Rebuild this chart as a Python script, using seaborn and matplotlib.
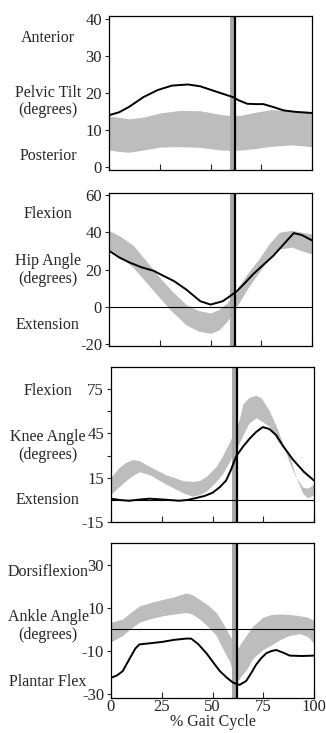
import matplotlib
matplotlib.use("Agg")
import matplotlib.pyplot as plt
import seaborn as sns
import pandas as pd

sns.set_style("ticks")
plt.rcParams['font.family'] = ['Liberation Serif', 'DejaVu Serif']

# ---------------- data ----------------
pelvis_x = [0, 5, 10, 17, 24, 31, 39, 45, 51, 56, 61, 64, 68, 72, 76, 81, 86, 92, 100]
pelvis_mean = [14, 14.8, 16.3, 18.9, 20.8, 22.0, 22.3, 21.8, 20.7, 19.8, 18.9, 18.0, 17.1, 17.0, 17.0, 16.2, 15.3, 14.9, 14.6]
pelvis_x_band = [0, 5, 10, 17, 25, 35, 45, 55, 60, 65, 72, 80, 90, 100]
pelvis_hi = [13.8, 13.4, 13.0, 13.5, 14.6, 15.3, 15.2, 14.2, 13.9, 14.0, 14.8, 15.5, 15.2, 15.0]
pelvis_lo = [4.6, 4.2, 4.0, 4.6, 5.4, 5.5, 5.3, 4.6, 4.5, 4.6, 5.0, 5.6, 6.0, 5.5]

hip_x = [0, 5, 10, 16, 22, 27, 32, 38, 45, 50, 56, 60, 63, 67, 71, 76, 81, 86, 91, 95, 100]
hip_mean = [30.1, 26.5, 23.8, 21.2, 19.3, 16.5, 13.8, 9.3, 3.0, 1.2, 3.0, 6.0, 8.4, 12.8, 17.5, 22.5, 27.4, 33.5, 39.5, 38.5, 35.6]
hip_x_band = [0, 6, 12, 18, 25, 31, 38, 44, 50, 54, 58, 61, 64.5, 69, 74.4, 79, 84, 90, 95, 100]
hip_hi = [41, 37.5, 32.9, 25, 15.7, 8.5, 1.2, -2.0, -3.3, -1.5, 2.0, 6.5, 12.0, 19.0, 26.5, 34.0, 40.0, 41.0, 40.0, 39.0]
hip_lo = [31, 26.5, 21, 13.5, 4.8, -2.5, -9.7, -13.0, -14.2, -12.5, -8.0, -3.0, 3.0, 11.0, 19.3, 26.0, 31.0, 32.0, 30.0, 28.3]

knee_x = [0, 5, 9, 14, 19, 26, 33.7, 38, 42, 46, 50, 53.5, 56.7, 59, 61.7, 65, 68.3, 71.5, 74.8, 78, 81.4, 85, 89.6, 95, 100]
knee_mean = [0.8, -0.2, -0.6, 0.2, 0.8, 0.2, -0.6, 0.0, 1.3, 2.6, 4.8, 8.5, 13.1, 20.0, 29.6, 36.0, 41.5, 46.0, 49.3, 48.0, 43.8, 36.0, 27.3, 19.0, 13.1]
knee_x_band = [0, 4, 7.4, 10.7, 14, 19, 27, 35.4, 40, 43.6, 47, 51.8, 55, 60, 63.3, 65, 68, 71.5, 74, 78, 82, 88, 91, 94.6, 97, 100]
knee_hi = [15.5, 22.0, 25.5, 27.3, 26.5, 22.6, 17.0, 13.1, 12.5, 13.1, 16.0, 22.6, 30.0, 43.8, 55.0, 65.0, 69.5, 70.9, 69.0, 60.4, 48.0, 25.0, 15.5, 8.4, 8.0, 10.7]
knee_lo = [3.7, 9.0, 13.1, 16.5, 19.0, 17.0, 10.7, 4.8, 2.5, 3.5, 6.0, 12.5, 17.8, 30.0, 39.0, 44.0, 52.0, 55.6, 53.5, 49.7, 40.0, 29.6, 16.0, 4.0, 1.3, 3.7]

ankle_x = [0, 3, 5.8, 9, 12, 14, 20, 25.5, 31, 37, 39.5, 43, 47, 50, 53.6, 57, 60, 63.3, 66.6, 69, 71.5, 74, 76.5, 79, 81.4, 85, 88, 94, 100]
ankle_mean = [-22.6, -21.5, -19.5, -14.0, -9.0, -7.1, -6.5, -5.9, -5.0, -4.4, -4.4, -7.0, -11.2, -15.0, -19.5, -22.5, -24.8, -25.9, -24.1, -20.5, -16.5, -13.5, -11.2, -10.2, -9.7, -11.0, -12.3, -12.5, -12.3]
ankle_x_band = [0, 5.8, 10, 14, 20, 25.5, 31, 37, 40, 43.6, 48, 51.8, 55, 58.4, 61, 62.5, 64, 66.6, 70, 74.8, 79, 83, 88, 93, 97, 100]
ankle_hi = [3.2, 4.7, 8.0, 10.8, 12.5, 13.8, 15.0, 16.8, 16.0, 13.8, 11.0, 7.7, 3.0, -2.9, -7.0, -8.9, -6.5, -2.9, 1.5, 5.5, 6.8, 7.0, 6.8, 6.2, 5.5, 3.9]
ankle_lo = [-5.9, -2.9, 0.5, 3.2, 5.0, 6.2, 7.0, 7.7, 7.0, 4.7, 1.0, -2.9, -9.0, -15.0, -23.3, -24.0, -22.0, -19.0, -13.5, -9.5, -7.4, -5.0, -2.9, -2.1, -3.5, -6.7]

toe_off = 62
toe_off_band = (59.5, 62)

x_ticks = [0, 25, 50, 75, 100]
x_tick_labels = ["0", "25", "50", "75", "100"]

panels = [
    dict(x=pelvis_x, y=pelvis_mean, xb=pelvis_x_band, hi=pelvis_hi, lo=pelvis_lo,
         ylim=(-0.8, 40.8), yticks=[0, 10, 20, 30, 40], yminor=[], zero=False,
         labels=["Anterior", "Pelvic Tilt", "(degrees)", "Posterior"],
         box=(109, 16, 312, 170), label_y=[38, 93, 110, 156]),
    dict(x=hip_x, y=hip_mean, xb=hip_x_band, hi=hip_hi, lo=hip_lo,
         ylim=(-21, 61), yticks=[-20, 0, 20, 40, 60], yminor=[], zero=True,
         labels=["Flexion", "Hip Angle", "(degrees)", "Extension"],
         box=(109, 193, 312, 346), label_y=[214, 261, 279, 325]),
    dict(x=knee_x, y=knee_mean, xb=knee_x_band, hi=knee_hi, lo=knee_lo,
         ylim=(-15, 90), yticks=[-15, 15, 45, 75], yminor=[30, 60], zero=True,
         labels=["Flexion", "Knee Angle", "(degrees)", "Extension"],
         box=(111, 367, 314, 522), label_y=[391, 437, 455, 500]),
    dict(x=ankle_x, y=ankle_mean, xb=ankle_x_band, hi=ankle_hi, lo=ankle_lo,
         ylim=(-32, 40), yticks=[-30, -10, 10, 30], yminor=[], zero=True,
         labels=["Dorsiflexion", "Ankle Angle", "(degrees)", "Plantar Flex"],
         box=(111, 543, 314, 698), label_y=[572, 617, 635, 682]),
]

W, H = 326, 733
fig = plt.figure(figsize=(W / 100, H / 100), dpi=100)
fig.patch.set_facecolor('white')

FS = 11.5
TFS = 12
for i, p in enumerate(panels):
    l, t, r, b = p["box"]
    ax = fig.add_axes([l / W, 1 - b / H, (r - l) / W, (b - t) / H])
    ax.fill_between(p["xb"], p["lo"], p["hi"], color='#bdbdbd', linewidth=0, zorder=1)
    ax.axvspan(toe_off_band[0], toe_off_band[1], color='#a8a8a8', linewidth=0, zorder=2)
    ax.axvline(toe_off, color='black', linewidth=1.6, zorder=4)
    if p["zero"]:
        ax.axhline(0, color='black', linewidth=0.8, zorder=3)
    df = pd.DataFrame({"x": p["x"], "y": p["y"]})
    sns.lineplot(data=df, x="x", y="y", ax=ax, color='black', linewidth=1.4, zorder=5)
    ax.set_xlim(0, 100)
    ax.set_ylim(*p["ylim"])
    ax.set_yticks(p["yticks"])
    ax.set_yticks(p["yminor"], minor=True)
    ax.set_yticklabels([str(v) for v in p["yticks"]], fontsize=TFS)
    ax.tick_params(axis='y', which='both', direction='out', length=3, width=0.8, pad=2)
    ax.set_xticks(x_ticks)
    ax.tick_params(axis='x', which='both', direction='in', length=4, width=0.8, pad=1)
    if i == len(panels) - 1:
        ax.set_xticklabels(x_tick_labels, fontsize=TFS)
        ax.set_xlabel("% Gait Cycle", fontsize=FS, labelpad=-1)
    else:
        ax.set_xticklabels([])
        ax.set_xlabel("")
    ax.set_ylabel("")
    for s in ax.spines.values():
        s.set_visible(True)
        s.set_linewidth(0.9)
        s.set_color('black')
    for txt, yy in zip(p["labels"], p["label_y"]):
        fig.text(48 / W, 1 - yy / H, txt, ha='center', va='center', fontsize=FS)

fig.savefig("out.png", dpi=100, facecolor='white')
